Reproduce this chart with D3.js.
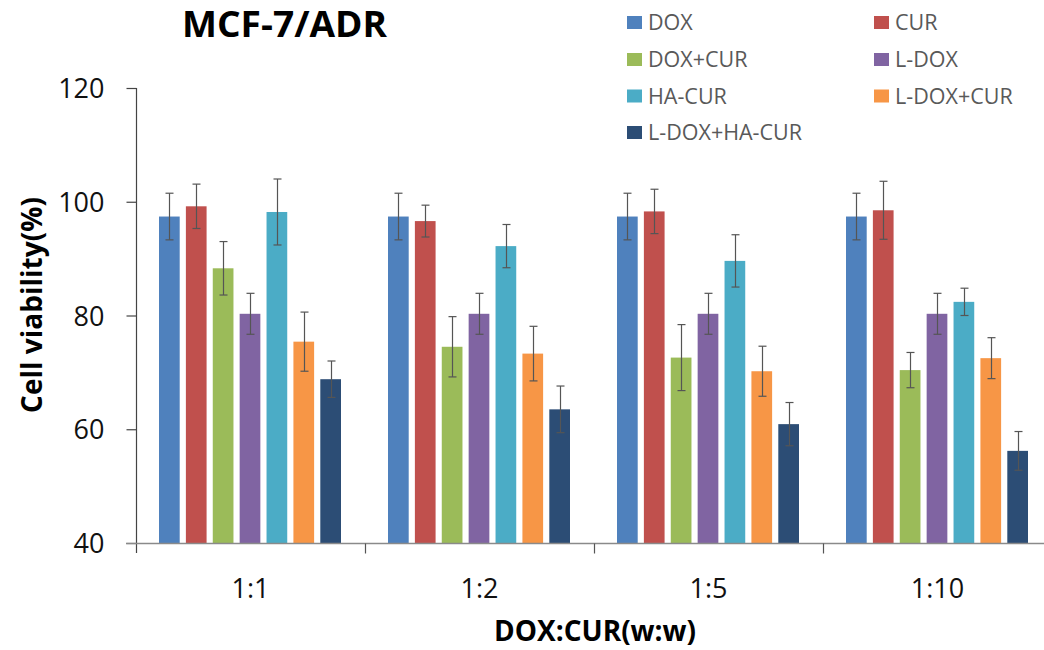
<!DOCTYPE html>
<html>
<head>
<meta charset="utf-8">
<script src="https://cdn.jsdelivr.net/npm/d3@7"></script>
<style>
  html, body { margin: 0; padding: 0; background: #fff; }
  svg { display: block; }
  text { font-family: "Open Sans", sans-serif; }
</style>
</head>
<body>
<svg id="chart" width="1044" height="650"></svg>
<script>
// ---- Data ----
const categories = ["1:1", "1:2", "1:5", "1:10"];
const seriesNames = ["DOX", "CUR", "DOX+CUR", "L-DOX", "HA-CUR", "L-DOX+CUR", "L-DOX+HA-CUR"];
const seriesColors = ["#4F81BD", "#C0504D", "#9BBB59", "#8064A2", "#4BACC6", "#F79646", "#2C4D75"];

const dox        = [97.4, 97.4, 97.4, 97.4];
const cur        = [99.2, 96.6, 98.3, 98.5];
const doxCur     = [88.3, 74.5, 72.6, 70.4];
const lDox       = [80.3, 80.3, 80.3, 80.3];
const haCur      = [98.2, 92.2, 89.6, 82.4];
const lDoxCur    = [75.4, 73.3, 70.2, 72.5];
const lDoxHaCur  = [68.8, 63.5, 60.9, 56.2];

const doxErr       = [4.1, 4.1, 4.1, 4.1];
const curErr       = [3.9, 2.8, 3.9, 5.1];
const doxCurErr    = [4.7, 5.3, 5.8, 3.1];
const lDoxErr      = [3.6, 3.6, 3.6, 3.6];
const haCurErr     = [5.8, 3.8, 4.6, 2.4];
const lDoxCurErr   = [5.2, 4.8, 4.4, 3.6];
const lDoxHaCurErr = [3.2, 4.1, 3.8, 3.4];

const yTicks = [40, 60, 80, 100, 120];

const seriesValues = [dox, cur, doxCur, lDox, haCur, lDoxCur, lDoxHaCur];
const seriesErrors = [doxErr, curErr, doxCurErr, lDoxErr, haCurErr, lDoxCurErr, lDoxHaCurErr];

const table = [];
categories.forEach((c, ci) => {
  seriesNames.forEach((s, si) => {
    table.push({ cat: c, series: s, value: seriesValues[si][ci], err: seriesErrors[si][ci], color: seriesColors[si] });
  });
});

// ---- Layout ----
const svg = d3.select("#chart");
const plotLeft = 136, plotBottom = 543, plotTop = 88;
const groupWidth = 229;

const x0 = d3.scaleBand().domain(categories).range([plotLeft, plotLeft + groupWidth * categories.length]).padding(0);
const x1 = d3.scaleBand().domain(seriesNames).range([23, 205]).paddingInner(0.23).paddingOuter(0);
const y = d3.scaleLinear().domain([40, 120]).range([plotBottom, plotTop]);

// Bars
const g = svg.append("g");
g.selectAll("rect.bar").data(table).join("rect")
  .attr("class", "bar")
  .attr("x", d => x0(d.cat) + x1(d.series))
  .attr("y", d => y(d.value))
  .attr("width", x1.bandwidth())
  .attr("height", d => y(40) - y(d.value))
  .attr("fill", d => d.color);

// Error bars
const eb = svg.append("g").attr("stroke", "#555").attr("stroke-width", 1.2);
table.forEach(d => {
  const cx = Math.round(x0(d.cat) + x1(d.series) + x1.bandwidth() / 2) + 0.5;
  const yt = y(d.value + d.err), yb = y(d.value - d.err);
  eb.append("line").attr("x1", cx).attr("x2", cx).attr("y1", yt).attr("y2", yb);
  eb.append("line").attr("x1", cx - 4).attr("x2", cx + 4).attr("y1", yt).attr("y2", yt);
  eb.append("line").attr("x1", cx - 4).attr("x2", cx + 4).attr("y1", yb).attr("y2", yb);
});

// Y axis
const yAxis = d3.axisLeft(y).tickValues(yTicks).tickSize(10).tickPadding(22).tickFormat(d3.format("d"));
const yg = svg.append("g").attr("transform", `translate(${plotLeft + 0.5},0)`).call(yAxis);
yg.select(".domain").remove();
yg.append("line").attr("x1", 0).attr("x2", 0).attr("y1", plotTop).attr("y2", plotBottom + 10)
  .attr("stroke", "#444").attr("stroke-width", 1.2);
yg.selectAll(".tick line").attr("stroke", "#444").attr("stroke-width", 1.2);
yg.selectAll(".tick text").attr("font-size", 27).attr("fill", "#111").attr("dy", "0.36em")
  .style("font-family", "'Open Sans', sans-serif");

// X axis
const xg = svg.append("g").attr("transform", `translate(0,${plotBottom + 0.5})`);
xg.append("line").attr("x1", plotLeft - 10).attr("x2", 1044).attr("y1", 0).attr("y2", 0)
  .attr("stroke", "#8a8a8a").attr("stroke-width", 1.5);
categories.slice(1).forEach(c => {
  const bx = Math.round(x0(c)) + 0.5;
  xg.append("line").attr("x1", bx).attr("x2", bx).attr("y1", 0).attr("y2", 10)
    .attr("stroke", "#555").attr("stroke-width", 1.2);
});
xg.selectAll("text.cat").data(categories).join("text")
  .attr("class", "cat")
  .attr("x", d => x0(d) + x0.bandwidth() / 2)
  .attr("y", 54)
  .attr("text-anchor", "middle")
  .attr("font-size", 27)
  .attr("fill", "#111")
  .text(d => d);

// Axis titles
svg.append("text")
  .attr("x", 595).attr("y", 641)
  .attr("text-anchor", "middle")
  .attr("font-size", 28).attr("font-weight", "bold").attr("fill", "#000")
  .text("DOX:CUR(w:w)");

svg.append("text")
  .attr("transform", "translate(42,305) rotate(-90)")
  .attr("text-anchor", "middle")
  .attr("font-size", 28).attr("font-weight", "bold").attr("fill", "#000")
  .text("Cell viability(%)");

// Title
svg.append("text")
  .attr("x", 182).attr("y", 37)
  .attr("font-size", 35).attr("font-weight", "bold").attr("fill", "#000")
  .attr("textLength", 205).attr("lengthAdjust", "spacingAndGlyphs")
  .text("MCF-7/ADR");

// Legend
const legendCols = [627, 874];
const legendRows = [22.5, 59.5, 96, 132.5];
const lg = svg.append("g");
seriesNames.forEach((s, i) => {
  const cx = legendCols[i % 2], cy = legendRows[Math.floor(i / 2)];
  lg.append("rect").attr("x", cx).attr("y", cy - 6.5).attr("width", 15).attr("height", 13).attr("fill", seriesColors[i]);
  lg.append("text").attr("x", cx + 21).attr("y", cy + 7.5)
    .attr("font-size", 21.5).attr("fill", "#595959").text(s);
});
</script>
</body>
</html>
